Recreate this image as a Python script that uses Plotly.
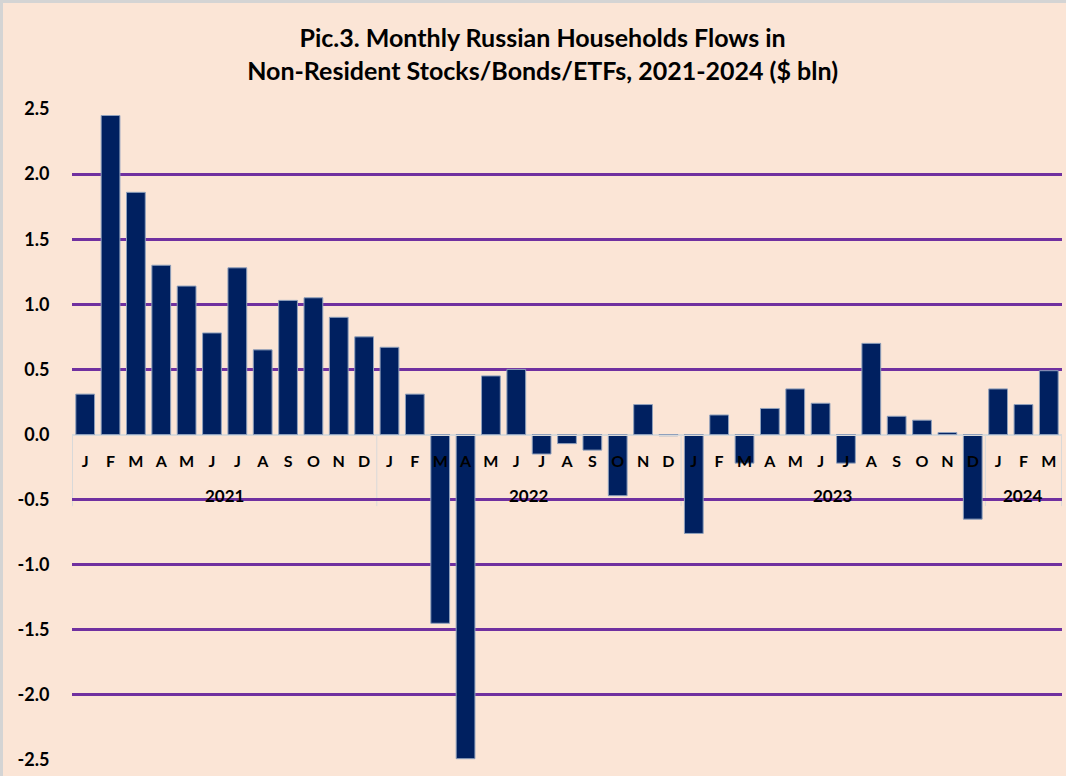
import plotly.graph_objects as go

# ---- data ----
years = ["2021"] * 12 + ["2022"] * 12 + ["2023"] * 12 + ["2024"] * 3
months = ["J", "F", "M", "A", "M", "J", "J", "A", "S", "O", "N", "D"] * 3 + ["J", "F", "M"]
flows = [0.31, 2.45, 1.86, 1.30, 1.14, 0.78, 1.28, 0.65, 1.03, 1.05, 0.90, 0.75,
         0.67, 0.31, -1.45, -2.49, 0.45, 0.50, -0.15, -0.07, -0.12, -0.47, 0.23, -0.01,
         -0.76, 0.15, -0.22, 0.20, 0.35, 0.24, -0.22, 0.70, 0.14, 0.11, 0.015, -0.65,
         0.35, 0.23, 0.49]
ytick_vals = [-2.5, -2.0, -1.5, -1.0, -0.5, 0.0, 0.5, 1.0, 1.5, 2.0, 2.5]
ytick_text = ["-2.5", "-2.0", "-1.5", "-1.0", "-0.5", "0.0", "0.5", "1.0", "1.5", "2.0", "2.5"]
title_text = "Pic.3. Monthly Russian Households Flows in<br>Non-Resident Stocks/Bonds/ETFs, 2021-2024 ($ bln)"

# unique category key for each month bar
keys = [f"{y}-{i:02d}" for i, y in enumerate(years)]

BG = "#FBE5D6"
NAVY = "#002060"
GRID = "#7030A0"
AXIS = "#D9D9D9"
FONT = "Lato"
YEAR_LABEL_Y = -0.47   # data units below the zero axis
DIVIDER_Y = -0.55

W, H = 1066, 776
ML, MR, MT, MB = 72, 4, 109, 16
PW, PH = W - ML - MR, H - MT - MB

fig = go.Figure(
    go.Bar(
        x=keys,
        y=flows,
        marker=dict(color=NAVY, line=dict(color="#8FA0BC", width=1)),
        hovertext=[f"{m} {y}" for m, y in zip(months, years)],
        hoverinfo="text+y",
    )
)

# year group labels and dividers, derived from the years list
groups = []
for i, y in enumerate(years):
    if not groups or groups[-1][0] != y:
        groups.append([y, i, i])
    else:
        groups[-1][2] = i

annotations = []
shapes = []
for y, start, end in groups:
    annotations.append(dict(
        x=(start + end) / 2, y=YEAR_LABEL_Y, xref="x", yref="y",
        text=y, showarrow=False,
        font=dict(family=FONT, size=17, color="black", weight="bold"),
        xanchor="center", yanchor="middle",
    ))
    shapes.append(dict(type="line", xref="x", yref="y",
                       x0=start - 0.5, x1=start - 0.5, y0=0, y1=DIVIDER_Y,
                       line=dict(color=AXIS, width=1), layer="below"))
shapes.append(dict(type="line", xref="x", yref="y",
                   x0=len(years) - 0.5, x1=len(years) - 0.5, y0=0, y1=DIVIDER_Y,
                   line=dict(color=AXIS, width=1), layer="below"))

# thin grey frame along the top and left edges of the chart area (as in the source image)
shapes.append(dict(type="line", xref="paper", yref="paper",
                   x0=-ML / PW, x1=1 + MR / PW, y0=1 + (MT - 1.5) / PH, y1=1 + (MT - 1.5) / PH,
                   line=dict(color="#D4D4D4", width=3)))
shapes.append(dict(type="line", xref="paper", yref="paper",
                   x0=-(ML - 1.5) / PW, x1=-(ML - 1.5) / PW, y0=-MB / PH, y1=1 + MT / PH,
                   line=dict(color="#D4D4D4", width=3)))

fig.update_layout(
    width=W,
    height=H,
    margin=dict(l=ML, r=MR, t=MT, b=MB),
    paper_bgcolor=BG,
    plot_bgcolor=BG,
    bargap=0.26,
    showlegend=False,
    title=dict(
        text=title_text,
        font=dict(family=FONT, size=25, color="black", weight="bold"),
        x=0.509, xref="container", xanchor="center",
        y=1 - 47 / H, yref="container", yanchor="middle",
    ),
    font=dict(family=FONT, color="black"),
    annotations=annotations,
    shapes=shapes,
)

fig.update_yaxes(
    range=[-2.5, 2.5],
    tickvals=ytick_vals,
    ticktext=ytick_text,
    tickfont=dict(family=FONT, size=18, color="black", weight="bold"),
    showgrid=True,
    gridcolor=GRID,
    gridwidth=2.5,
    zeroline=True,
    zerolinecolor=AXIS,
    zerolinewidth=1,
    ticks="outside",
    ticklen=18,
    tickcolor="rgba(0,0,0,0)",
    showline=False,
    fixedrange=True,
)

fig.update_xaxes(
    type="category",
    tickvals=keys,
    ticktext=months,
    anchor="free",
    position=0.5,
    showline=True,
    linecolor=AXIS,
    linewidth=1,
    showgrid=False,
    ticks="outside",
    ticklen=12,
    tickcolor="rgba(0,0,0,0)",
    tickangle=0,
    tickfont=dict(family=FONT, size=16, color="black", weight="bold"),
    fixedrange=True,
)

fig.write_html("out.html", config={"displayModeBar": False},
               post_script="document.body.style.margin='0';")
